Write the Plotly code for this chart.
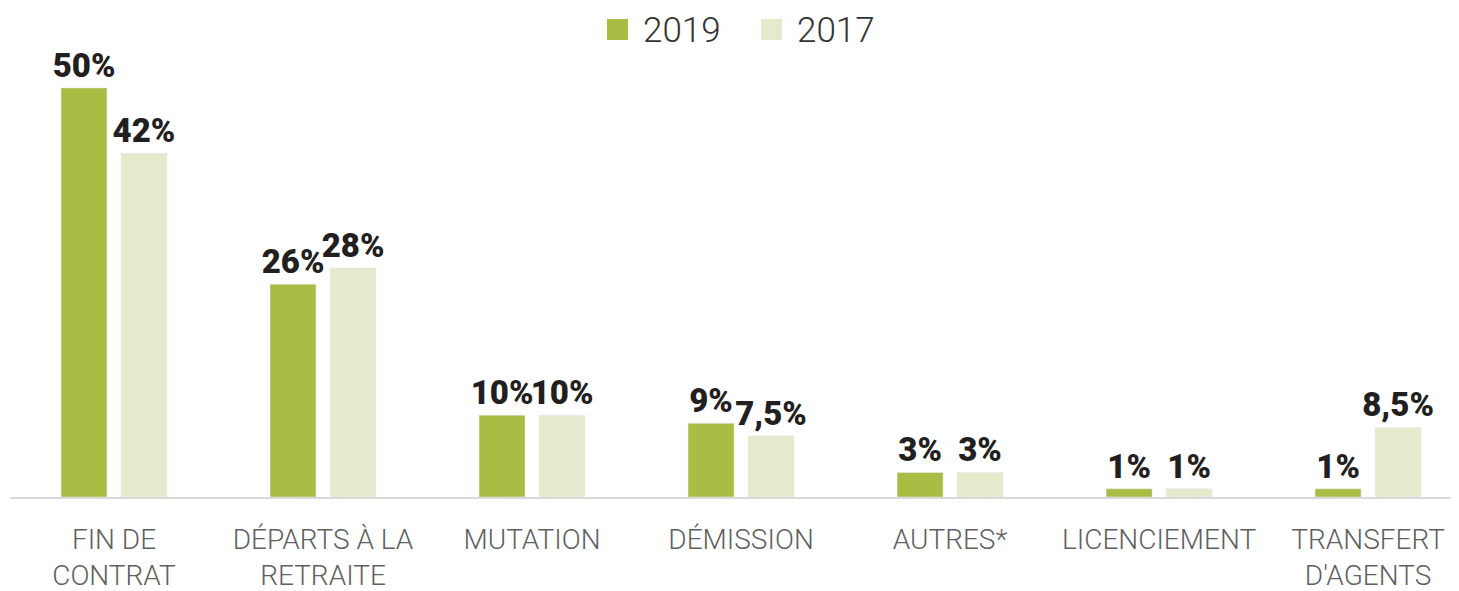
import plotly.graph_objects as go

categories = ["FIN DE<br>CONTRAT", "DÉPARTS À LA<br>RETRAITE", "MUTATION", "DÉMISSION",
              "AUTRES*", "LICENCIEMENT", "TRANSFERT<br>D'AGENTS"]
series_names = ["2019", "2017"]
values_2019 = [50, 26, 10, 9, 3, 1, 1]
values_2017 = [42, 28, 10, 7.5, 3, 1, 8.5]
labels_2019 = ["50%", "26%", "10%", "9%", "3%", "1%", "1%"]
labels_2017 = ["42%", "28%", "10%", "7,5%", "3%", "1%", "8,5%"]
colors = ["#a9bd45", "#e4eacb"]

# figure geometry (page body has an 8px margin)
W, H = 1451, 583
ML, MR, MT, MB = 2, 0, 39, 94
PW, PH = W - ML - MR, H - MT - MB

x_idx = list(range(len(categories)))
label_font = dict(family="Roboto", size=33, color="#231f20", weight=900)

fig = go.Figure()
for name, vals, labs, col in [(series_names[0], values_2019, labels_2019, colors[0]),
                              (series_names[1], values_2017, labels_2017, colors[1])]:
    fig.add_trace(go.Bar(x=x_idx, y=vals, name=name, marker_color=col,
                         text=labs, textposition="outside", textfont=label_font,
                         constraintext="none", cliponaxis=False, showlegend=False))

# custom legend (bigger swatches like the reference)
def px2paper(xf, yf):
    return (xf - ML) / PW, (H - MB - yf) / PH

leg_items = [(599, series_names[0], colors[0]), (753, series_names[1], colors[1])]
for sx, name, col in leg_items:
    x0, y0 = px2paper(sx, 32)
    x1, y1 = px2paper(sx + 21, 11)
    fig.add_shape(type="rect", xref="paper", yref="paper", x0=x0, x1=x1, y0=y0, y1=y1,
                  fillcolor=col, line=dict(width=0))
    tx, ty = px2paper(sx + 34, 23)
    fig.add_annotation(xref="paper", yref="paper", x=tx, y=ty, text=name, showarrow=False,
                       xanchor="left", yanchor="middle",
                       font=dict(family="Roboto", size=35, color="#333333", weight=300))

fig.update_layout(
    width=W, height=H,
    margin=dict(l=ML, r=MR, t=MT, b=MB),
    paper_bgcolor="white", plot_bgcolor="white",
    barmode="group", bargap=0.426, bargroupgap=0.233,
    xaxis=dict(range=[-0.4976, 6.435], tickmode="array", tickvals=x_idx, ticktext=categories,
               showline=True, linecolor="#d9d9d9", linewidth=2, showgrid=False,
               zeroline=False, ticks="", ticklabelstandoff=16,
               tickfont=dict(family="Roboto", size=28, color="#5f5f5f", weight=300)),
    yaxis=dict(range=[0, 55], visible=False, showgrid=False, zeroline=False),
)

fig.write_html("out.html")
